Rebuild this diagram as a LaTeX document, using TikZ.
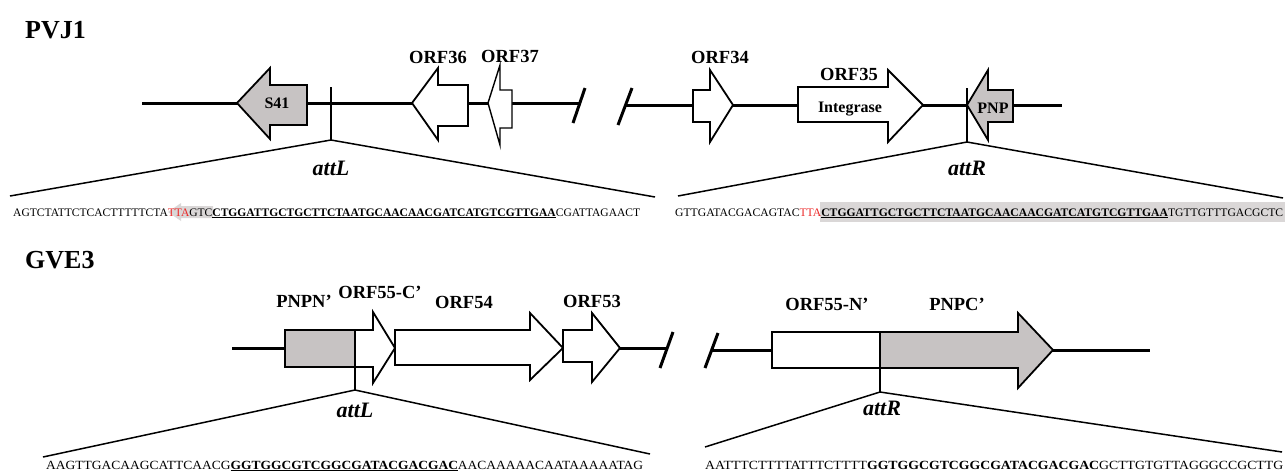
\documentclass[tikz,border=0pt]{standalone}
\usepackage{fontspec}
\setmainfont{Liberation Serif}
\usepackage{graphicx}
\definecolor{genegray}{RGB}{199,195,195}
\definecolor{seqred}{RGB}{235,40,40}
\definecolor{seqshade}{RGB}{218,215,215}

\tikzset{
  backbone/.style={line width=3pt},
  gene/.style={draw, line width=1.8pt, fill=white, line join=miter},
  graygene/.style={gene, fill=genegray},
  tickmark/.style={line width=2.6pt},
  breakmark/.style={line width=3pt},
  zoomline/.style={line width=1.5pt},
  lbl/.style={font=\bfseries\fontsize{18.5}{20}\selectfont, anchor=base, inner sep=0pt},
  inlbl/.style={font=\bfseries\fontsize{16}{18}\selectfont, anchor=base, inner sep=0pt},
  att/.style={font=\bfseries\itshape\fontsize{22}{24}\selectfont, anchor=base, inner sep=0pt},
  title/.style={font=\bfseries\fontsize{26}{28}\selectfont, anchor=base west, inner sep=0pt},
  seq/.style={font=\fontsize{11.5}{12}\selectfont, anchor=base west, inner sep=0pt},
  seqbig/.style={font=\fontsize{12.5}{13}\selectfont, anchor=base west, inner sep=0pt},
}

\begin{document}
\begin{tikzpicture}[x=1pt, y=-1pt]
\useasboundingbox (0,0) rectangle (1285,472);

% ---------------- PVJ1 ----------------
\node[title] (tPVJ) at (25,38) {PVJ1};

% backbone, left segment and break
\coordinate (pa1) at (142,103);
\coordinate (pa2) at (579,103);
\draw[backbone] (pa1) -- (pa2);
\draw[breakmark] (573,123) -- (585,88);
% backbone, right segment and break
\coordinate (pb1) at (625,105);
\coordinate (pb2) at (1062,105);
\draw[backbone] (pb1) -- (pb2);
\draw[breakmark] (618,125) -- (632,88);

% S41 (leftward, grey)
\draw[graygene] (237,103) -- (270,68) -- (270,85) -- (307,85) -- (307,125) -- (270,125) -- (270,139) -- cycle;
\node[inlbl] (lS41) at (277,108) {S41};
% ORF36
\draw[gene] (412,103) -- (438,68) -- (438,85) -- (468,85) -- (468,126) -- (438,126) -- (438,140) -- cycle;
\node[lbl] (lO36) at (438,63) {ORF36};
% ORF37
\draw[gene, line width=1.4pt] (488,103) -- (500,65) -- (500,90) -- (512,90) -- (512,128) -- (500,128) -- (500,145) -- cycle;
\node[lbl] (lO37) at (510,62) {ORF37};
% ORF34
\draw[gene] (693,90) -- (710,90) -- (710,70) -- (733,105) -- (710,142) -- (710,122) -- (693,122) -- cycle;
\node[lbl] (lO34) at (720,63) {ORF34};
% ORF35 integrase
\draw[gene] (798,87) -- (888,87) -- (888,70) -- (923,105) -- (888,142) -- (888,122) -- (798,122) -- cycle;
\node[lbl] (lO35) at (849,80) {ORF35};
\node[inlbl] (lInt) at (850,112.5) {Integrase};
% PNP (leftward, grey)
\draw[graygene] (967,105) -- (988,70) -- (988,90) -- (1013,90) -- (1013,122) -- (988,122) -- (988,140) -- cycle;
\node[inlbl] (lPNP) at (993,113) {PNP};

% attL / attR markers and zoom lines
\coordinate (pLt) at (331,87);
\coordinate (pLb) at (331,140);
\draw[tickmark] (pLt) -- (pLb);
\coordinate (pLl) at (10,196);
\coordinate (pLr) at (655,197);
\draw[zoomline] (pLl) -- (pLb) -- (pLr);
\node[att] (aPL) at (331,175) {attL};

\coordinate (pRt) at (967,88);
\coordinate (pRb) at (967,142);
\draw[tickmark] (pRt) -- (pRb);
\coordinate (pRl) at (678,196);
\coordinate (pRr) at (1283,198);
\draw[zoomline] (pRl) -- (pRb) -- (pRr);
\node[att] (aPR) at (967,175) {attR};

% sequence backgrounds
\fill[seqshade] (820,202) rectangle (1285,222);
\fill[seqshade] (168,212) -- (181,203) -- (181,206) -- (213,206) -- (213,218) -- (181,218) -- (181,221) -- cycle;

% sequences
\node[seq] (sPL) at (13,216) {\resizebox{627pt}{\height}{AGTCTATTCTCACTTTTTCTA\textcolor{seqred}{TTA}GTC\underline{\textbf{CTGGATTGCTGCTTCTAATGCAACAACGATCATGTCGTTGAA}}CGATTAGAACT}};
\node[seq] (sPR) at (675,216) {\resizebox{608pt}{\height}{GTTGATACGACAGTAC\textcolor{seqred}{TTA}\underline{\textbf{CTGGATTGCTGCTTCTAATGCAACAACGATCATGTCGTTGAA}}TGTTGTTTGACGCTC}};

% ---------------- GVE3 ----------------
\node[title] (tGVE) at (25,268) {GVE3};

\coordinate (ga1) at (232,348);
\coordinate (ga2) at (667,348);
\draw[backbone] (ga1) -- (ga2);
\draw[breakmark] (660,368) -- (673,332);
\coordinate (gb1) at (712,350);
\coordinate (gb2) at (1150,350);
\draw[backbone] (gb1) -- (gb2);
\draw[breakmark] (705,368) -- (718,333);

% PNPN'
\draw[graygene] (285,330) rectangle (355,367);
\node[lbl] (lPNPN) at (304,307) {PNPN'};
% ORF55-C'
\draw[gene] (355,330) -- (373,330) -- (373,312) -- (395,348) -- (373,383) -- (373,367) -- (355,367) -- cycle;
\node[lbl] (lO55C) at (380,298) {ORF55-C'};
% ORF54
\draw[gene] (395,330) -- (530,330) -- (530,313) -- (563,348) -- (530,380) -- (530,365) -- (395,365) -- cycle;
\node[lbl] (lO54) at (464,308) {ORF54};
% ORF53
\draw[gene] (563,330) -- (592,330) -- (592,313) -- (620,348) -- (592,382) -- (592,362) -- (563,362) -- cycle;
\node[lbl] (lO53) at (592,307) {ORF53};

% ORF55-N'
\draw[gene] (772,332) rectangle (880,368);
\node[lbl] (lO55N) at (827,310) {ORF55-N'};
% PNPC'
\draw[graygene] (880,332) -- (1018,332) -- (1018,313) -- (1053,350) -- (1018,388) -- (1018,368) -- (880,368) -- cycle;
\node[lbl] (lPNPC) at (957,310) {PNPC'};

% attL / attR markers and zoom lines
\coordinate (gLt) at (355,367);
\coordinate (gLb) at (355,390);
\draw[tickmark] (gLt) -- (gLb);
\coordinate (gLl) at (43,457);
\coordinate (gLr) at (650,454);
\draw[zoomline] (gLl) -- (gLb) -- (gLr);
\node[att] (aGL) at (355,417) {attL};

\coordinate (gRt) at (880,368);
\coordinate (gRb) at (880,392);
\draw[tickmark] (gRt) -- (gRb);
\coordinate (gRl) at (705,447);
\coordinate (gRr) at (1282,452);
\draw[zoomline] (gRl) -- (gRb) -- (gRr);
\node[att] (aGR) at (882,415) {attR};

% sequences
\node[seqbig] (sGL) at (46,469) {\resizebox{597pt}{\height}{AAGTTGACAAGCATTCAACG\underline{\textbf{GGTGGCGTCGGCGATACGACGAC}}AACAAAAACAATAAAAATAG}};
\node[seqbig] (sGR) at (705,469) {\resizebox{578pt}{\height}{AATTTCTTTTATTTCTTTT\textbf{GGTGGCGTCGGCGATACGACGAC}GCTTGTGTTAGGGCCGCTTG}};

\end{tikzpicture}
\end{document}
